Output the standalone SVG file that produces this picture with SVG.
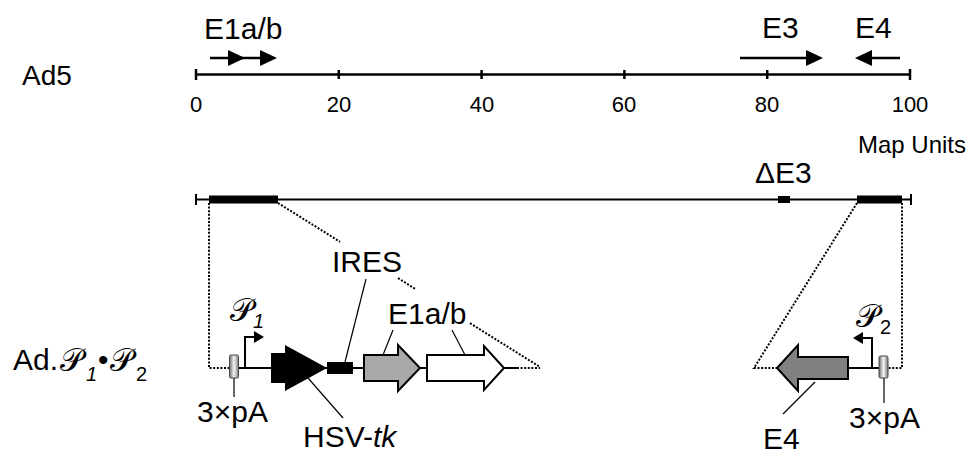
<svg xmlns="http://www.w3.org/2000/svg" width="968" height="455" viewBox="0 0 968 455">
<defs>
<style>
text{font-family:"Liberation Sans",Arial,sans-serif;fill:#000}
.lbl{font-size:30px}
.num{font-size:22px;text-anchor:middle}
.scr{font-family:"DejaVu Serif","Noto Sans",serif;font-size:32px}
.sub{font-size:20px}
.ln{stroke:#000;stroke-width:2.5;fill:none}
.bb{stroke:#000;stroke-width:2;fill:none}
.thin{stroke:#000;stroke-width:1.2;fill:none}
.dot{stroke:#000;stroke-width:2;stroke-dasharray:2 1.6;fill:none}
.gene{stroke:#000;stroke-width:2;stroke-linejoin:miter}
.pa{fill:url(#cyl);stroke:#444;stroke-width:1}
</style>
<linearGradient id="cyl" x1="0" x2="1" y1="0" y2="0">
<stop offset="0" stop-color="#6e6e6e"/>
<stop offset="0.5" stop-color="#f4f4f4"/>
<stop offset="1" stop-color="#7e7e7e"/>
</linearGradient>
<path id="head" d="M0,0 L-17,-8 L-17,8 Z"/>
<path id="phead" d="M0,0 L-10,-6 L-10,6 Z"/>
</defs>

<!-- Ad5 genome map -->
<g id="ad5">
<text class="lbl" x="22" y="85" style="font-size:28px">Ad5</text>
<line class="ln" x1="196" y1="74.5" x2="910" y2="74.5"/>
<path class="ln" d="M196,69V80M338.8,70V79M481.6,70V79M624.4,70V79M767.2,70V79M910,69V80"/>
<text class="num" x="196" y="112">0</text>
<text class="num" x="339" y="112">20</text>
<text class="num" x="482" y="112">40</text>
<text class="num" x="624" y="112">60</text>
<text class="num" x="767" y="112">80</text>
<text class="num" x="910" y="112">100</text>
<text x="858" y="153" style="font-size:24px">Map Units</text>
</g>

<g id="e1-top">
<text class="lbl" x="204" y="39">E1a/b</text>
<line class="ln" x1="210" y1="58" x2="262" y2="58"/>
<use href="#head" x="245" y="58"/>
<use href="#head" x="277" y="58"/>
</g>
<g id="e3-top">
<text class="lbl" x="762" y="38">E3</text>
<line class="ln" x1="740" y1="58" x2="806" y2="58"/>
<use href="#head" x="823" y="58"/>
</g>
<g id="e4-top">
<text class="lbl" x="855" y="38">E4</text>
<line class="ln" x1="900" y1="58" x2="872" y2="58"/>
<use href="#head" transform="translate(855 58) rotate(180)"/>
</g>

<!-- vector backbone -->
<g id="backbone">
<line class="bb" x1="196" y1="199.5" x2="911" y2="199.5"/>
<path class="bb" d="M196,194V205M911,194V205"/>
<rect x="209" y="195.5" width="69" height="8"/>
<rect x="857" y="195.5" width="45" height="8"/>
<rect x="778" y="196" width="12" height="7"/>
<text class="lbl" x="755" y="183">ΔE3</text>
</g>

<!-- expansion lines and leaders -->
<g id="connectors">
<path class="dot" d="M209,203V368H230"/>
<path class="dot" d="M278,203L340,241.8"/>
<path class="dot" d="M398,278.1L416,289.4"/>
<path class="dot" d="M470,323.2L540,367"/>
<path class="dot" d="M517,368H540"/>
<path class="dot" d="M857,203L754,368H777"/>
<path class="dot" d="M902,203V368H888"/>
<path class="thin" d="M366,279L345,362"/>
<path class="thin" d="M393,330L383,355M452,330L465,355"/>
<path class="thin" d="M234,378V397"/>
<path class="thin" d="M308,378L343,418"/>
<path class="thin" d="M884,378V403"/>
<path class="thin" d="M815,382L783,414"/>
</g>

<!-- left cassette -->
<g id="left-cassette">
<line class="bb" x1="238" y1="368" x2="517" y2="368"/>
<rect class="pa" x="229.5" y="355" width="9" height="23" rx="1.5"/>
<path class="bb" d="M245,368V337H254"/>
<use href="#phead" x="264" y="337"/>
<path d="M271,353H285V345L327,368L285,391V383H271Z"/>
<rect x="327" y="362" width="26" height="12"/>
<path class="gene" fill="#a8a8a8" d="M364,355H398V345L420,368L398,391V381H364Z"/>
<path class="gene" fill="#fff" d="M427,355H484V346L504,368L484,390V381H427Z"/>
</g>
<g id="p1-label">
<text class="scr" x="230" y="321">𝒫</text>
<text class="sub" x="253" y="328" font-style="italic">1</text>
</g>
<g id="ires-label"><text class="lbl" x="332" y="272">IRES</text></g>
<g id="e1-label"><text class="lbl" x="388" y="324">E1a/b</text></g>
<g id="pa1-label"><text class="lbl" x="197" y="422">3×pA</text></g>
<g id="tk-label"><text class="lbl" x="303" y="447">HSV-<tspan font-style="italic">tk</tspan></text></g>

<!-- right cassette -->
<g id="right-cassette">
<line class="bb" x1="848" y1="368" x2="879" y2="368"/>
<path class="gene" fill="#808080" d="M848,357V379H798V391L777,368L798,345V357Z"/>
<rect class="pa" x="879" y="356" width="9" height="22" rx="1.5"/>
<path class="bb" d="M872,368V338H863"/>
<use href="#phead" transform="translate(853 338) rotate(180)"/>
</g>
<g id="p2-label">
<text class="scr" x="856" y="327">𝒫</text>
<text class="sub" x="880" y="334">2</text>
</g>
<g id="pa2-label"><text class="lbl" x="849" y="428">3×pA</text></g>
<g id="e4-label"><text class="lbl" x="763" y="449">E4</text></g>

<g id="construct-name">
<text class="lbl" x="13" y="370">Ad.</text>
<text class="scr" x="60" y="371">𝒫</text>
<text class="sub" x="86" y="381" font-style="italic">1</text>
<text class="lbl" x="98" y="370">•</text>
<text class="scr" x="110" y="371">𝒫</text>
<text class="sub" x="136" y="381">2</text>
</g>
</svg>
